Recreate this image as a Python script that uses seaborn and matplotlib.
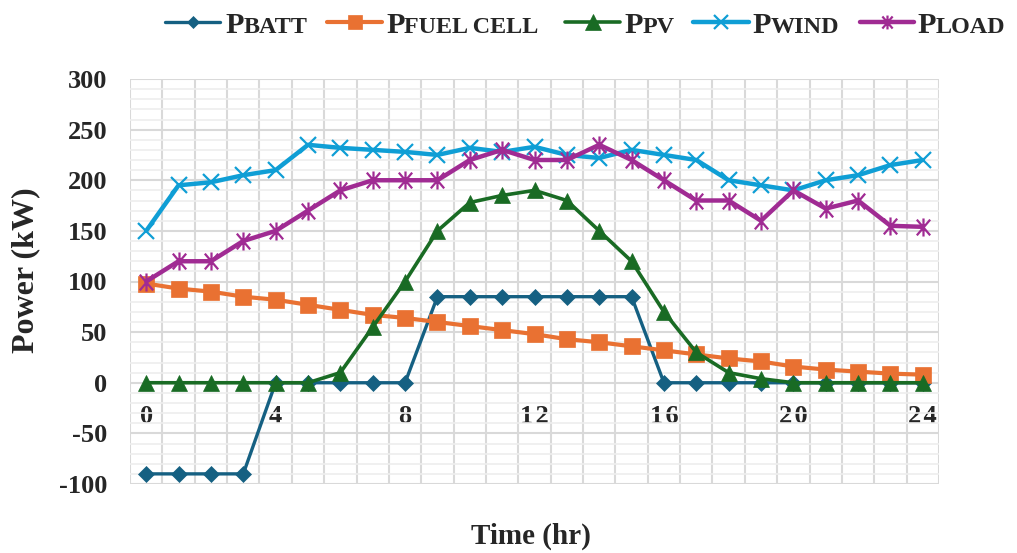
import numpy as np
import pandas as pd
import matplotlib
matplotlib.use("Agg")
import matplotlib.pyplot as plt
import seaborn as sns
from matplotlib.path import Path
from matplotlib.lines import Line2D
from matplotlib.ticker import MultipleLocator, FixedLocator

# ---------------- data ----------------
hours = list(range(25))
p_batt = [-90, -90, -90, -90, 0, 0, 0, 0, 0, 85, 85, 85, 85, 85, 85, 85,
          0, 0, 0, 0, 0, 0, 0, 0, 0]
p_fuel = [98, 93, 90, 85, 82, 77, 72, 67, 64, 60, 56, 52, 48, 43, 40, 36,
          32, 28, 24, 21, 16, 13, 11, 9, 8]
p_pv = [0, 0, 0, 0, 0, 0, 10, 55, 100, 150, 178, 185, 190, 180, 150, 120,
        70, 30, 10, 4, 0, 0, 0, 0, 0]
p_wind = [150, 195, 198, 205, 210, 235, 232, 230, 228, 225, 232, 228, 233,
          225, 222, 230, 225, 220, 200, 195, 190, 200, 205, 215, 220]
p_load = [100, 120, 120, 140, 150, 170, 190, 200, 200, 200, 220, 230, 220,
          220, 235, 220, 200, 180, 180, 160, 190, 172, 180, 155, 154]

series_keys = ["BATT", "FUEL CELL", "PV", "WIND", "LOAD"]
xtick_values = [0, 4, 8, 12, 16, 20, 24]
xtick_labels = ["0", "4", "8", "1\u200a2", "1\u200a6", "2\u200a0", "2\u200a4"]
ytick_values = [-100, -50, 0, 50, 100, 150, 200, 250, 300]
x_title = "Time (hr)"
y_title = "Power (kW)"

df = pd.DataFrame({"Time": hours, "BATT": p_batt, "FUEL CELL": p_fuel,
                   "PV": p_pv, "WIND": p_wind, "LOAD": p_load})

# ---------------- styles ----------------
star = Path([(-0.85, -1.0), (0.85, 1.0), (-0.85, 1.0), (0.85, -1.0),
             (0.0, -1.15), (0.0, 1.15)],
            [Path.MOVETO, Path.LINETO, Path.MOVETO, Path.LINETO,
             Path.MOVETO, Path.LINETO])

styles = {
    "BATT": dict(color="#156082", marker="D", ms=8.5, lw=2.4, mew=0.5, lms=6.5),
    "FUEL CELL": dict(color="#E97132", marker="s", ms=12, lw=3.0, mew=0.5, lms=9.5),
    "PV": dict(color="#196B24", marker="^", ms=12, lw=2.6, mew=0.5, lms=11),
    "WIND": dict(color="#0F9ED5", marker="x", ms=12, lw=3.2, mew=1.6, lms=9.5),
    "LOAD": dict(color="#A02B93", marker=star, ms=13, lw=3.2, mew=1.6, lms=10),
}

W, H = 1017, 553
sns.set_theme(style="white")
plt.rcParams["font.family"] = ["Liberation Serif", "DejaVu Serif"]
plt.rcParams["font.weight"] = "bold"
plt.rcParams["axes.labelweight"] = "bold"

fig = plt.figure(figsize=(W / 100, H / 100), dpi=100)
ax = fig.add_axes([130 / W, 1 - 484 / H, 809 / W, 405 / H])

for i, key in enumerate(series_keys):
    st = styles[key]
    sns.lineplot(data=df, x="Time", y=key, ax=ax, color=st["color"],
                 linewidth=st["lw"], marker=st["marker"], markersize=st["ms"],
                 markerfacecolor=st["color"], markeredgecolor=st["color"],
                 markeredgewidth=st["mew"], legend=False, zorder=3 + i)

ax.set_xlim(-0.5, 24.5)
ax.set_ylim(-100, 300)
ax.set_xticks(xtick_values)
ax.set_xticklabels(xtick_labels)
ax.xaxis.set_minor_locator(FixedLocator(np.arange(-0.5, 25.0, 1.0)))
ax.set_yticks(ytick_values)
ax.set_yticklabels([str(v) for v in ytick_values])
ax.yaxis.set_minor_locator(MultipleLocator(10))

ax.grid(False)
ax.xaxis.grid(True, which="minor", color="#d9d9d9", lw=1.5)
ax.xaxis.grid(False, which="major")
ax.yaxis.grid(True, which="major", color="#d9d9d9", lw=1.5)
ax.yaxis.grid(True, which="minor", color="#eeeeee", lw=1.2)
ax.set_axisbelow(True)
for s in ax.spines.values():
    s.set_visible(False)
ax.spines["bottom"].set_position(("data", 0))
ax.tick_params(axis="both", which="both", length=0)
ax.tick_params(axis="x", pad=16, labelsize=19)
ax.tick_params(axis="y", pad=16.5, labelsize=19)

ax.set_xlabel(x_title, fontsize=21, fontweight="bold")
ax.xaxis.set_label_coords((531 - 130) / 809, (484 - 523) / 405)
ax.set_ylabel(y_title, fontsize=23, fontweight="bold")
ax.yaxis.set_label_coords((40 - 130) / 809, (484 - 270) / 405)

# ---------------- legend ----------------
handle_px = {"BATT": (165, 220, 225), "FUEL CELL": (327, 382, 386),
             "PV": (565, 620, 624), "WIND": (693, 749, 752),
             "LOAD": (860, 914, 917)}
yc = 1 - 22 / H
yb = 1 - 33 / H
renderer = fig.canvas.get_renderer()
for key in series_keys:
    st = styles[key]
    x0, x1, xt = handle_px[key]
    fig.add_artist(Line2D([x0 / W, x1 / W], [yc, yc], transform=fig.transFigure,
                          color=st["color"], lw=st["lw"], solid_capstyle="round"))
    fig.add_artist(Line2D([(x0 + x1) / 2 / W], [yc], transform=fig.transFigure,
                          linestyle="none", marker=st["marker"], ms=st["lms"],
                          mfc=st["color"], mec=st["color"], mew=st["mew"]))
    t = fig.text(xt / W, yb, "P", fontsize=21.7, fontweight="bold",
                 va="baseline", ha="left")
    bb = t.get_window_extent(renderer)
    fig.text(bb.x1 / W, yb, key, fontsize=17.4, fontweight="bold",
             va="baseline", ha="left")

fig.savefig("out.png", dpi=100)
